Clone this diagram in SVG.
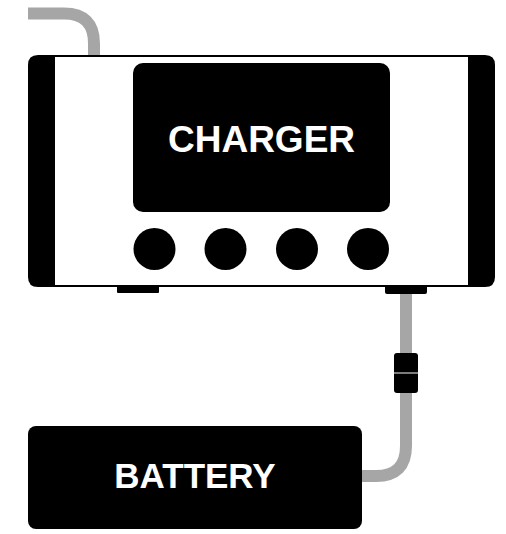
<svg xmlns="http://www.w3.org/2000/svg" width="506" height="534" viewBox="0 0 506 534">
<style>
.cable{fill:none;stroke:#a6a6a6;stroke-width:12}
.blk{fill:#000}
.lbl{font-family:"Liberation Sans",Arial,sans-serif;font-weight:bold;fill:#fff;text-anchor:middle}
</style>
<g id="connectors">
<path class="cable" d="M28 13.5 H64 Q94 13.5 94 43.5 V58"/>
<path class="cable" d="M406 292 V446 Q406 476 376 476 H360"/>
</g>
<g id="charger">
<rect x="40" y="56" width="440" height="230" fill="#fff" stroke="#000" stroke-width="2"/>
<path class="blk" d="M55 55 V287 H38 Q28 287 28 277 V65 Q28 55 38 55 Z"/>
<path class="blk" d="M468 55 H485 Q495 55 495 65 V277 Q495 287 485 287 H468 Z"/>
<rect class="blk" x="133" y="63" width="257" height="149" rx="10"/>
<text class="lbl" x="261.5" y="152" font-size="37">CHARGER</text>
<circle class="blk" cx="154.5" cy="249" r="21"/>
<circle class="blk" cx="225.5" cy="249" r="21"/>
<circle class="blk" cx="297" cy="249" r="21"/>
<circle class="blk" cx="368" cy="249" r="21"/>
<path class="blk" d="M117 286 H159 V292 Q159 293 158 293 H118 Q117 293 117 292 Z"/>
<path class="blk" d="M385 286 H427 V292 Q427 294 425 294 H387 Q385 294 385 292 Z"/>
</g>
<g id="inline-connector">
<rect class="blk" x="394" y="353" width="24" height="40" rx="3"/>
<line x1="394" y1="373" x2="418" y2="373" stroke="#a6a6a6" stroke-width="1.5"/>
</g>
<g id="battery">
<rect class="blk" x="28" y="426" width="334" height="103" rx="8"/>
<text class="lbl" x="195" y="488" font-size="35">BATTERY</text>
</g>
</svg>
